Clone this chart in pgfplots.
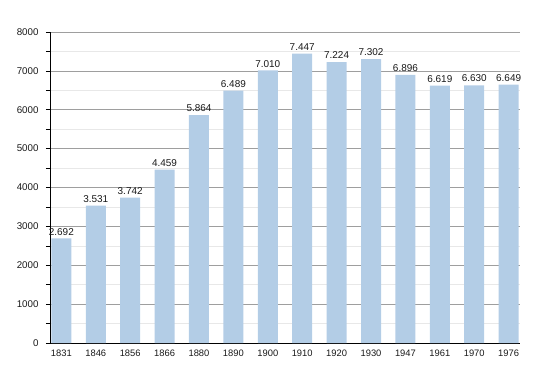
\documentclass[border=0pt]{standalone}
\usepackage{pgfplots}
\pgfplotsset{compat=1.18}
\usepackage{pgfplotstable}
\usepackage{fontspec}
\setmainfont{Liberation Sans}
\definecolor{barblue}{HTML}{B3CDE6}
\pgfplotstableread{
x year val lab
0 1831 2692 2.692
1 1846 3531 3.531
2 1856 3742 3.742
3 1866 4459 4.459
4 1880 5864 5.864
5 1890 6489 6.489
6 1900 7010 7.010
7 1910 7447 7.447
8 1920 7224 7.224
9 1930 7302 7.302
10 1947 6896 6.896
11 1961 6619 6.619
12 1970 6630 6.630
13 1976 6649 6.649
}\datatable
\begin{document}
\begin{tikzpicture}
\begin{axis}[
  scale only axis, width=470bp, height=311bp,
  at={(0,0)}, anchor=south west,
  xmin=-0.33, xmax=13.33, ymin=0, ymax=8000,
  axis x line*=bottom, axis y line*=left,
  axis line style={-, black, line width=0.8pt},
  xtick=data,
  xticklabels={1831,1846,1856,1866,1880,1890,1900,1910,1920,1930,1947,1961,1970,1976},
  xtick style={draw=none},
  ytick={0,1000,...,8000},
  minor ytick={500,1500,...,7500},
  ymajorgrids, yminorgrids,
  major grid style={color=black!38, line width=0.6pt},
  minor grid style={color=black!9, line width=0.6pt},
  tick align=outside,
  major tick length=4bp, minor tick length=4bp,
  ytick style={black, line width=0.6pt},
  tick label style={font=\fontsize{9.8}{11}\selectfont, text=black!90},
  xticklabel style={font=\fontsize{9.4}{11}\selectfont, yshift=1bp},
  yticklabel style={xshift=-4bp},
  /pgf/number format/assume math mode=true,
  yticklabel={\pgfmathprintnumber[fixed,1000 sep={}]{\tick}},
  scaled y ticks=false,
  clip=false,
]
\addplot[ybar, bar width=20bp, fill=barblue, draw=none,
  nodes near coords, point meta=explicit symbolic,
  every node near coord/.append style={font=\fontsize{10}{11}\selectfont, text=black!90, inner sep=3pt}]
  table[x=x, y=val, meta=lab]{\datatable};
\end{axis}
\path (-50bp,-30bp) rectangle (500bp,343bp);
\end{tikzpicture}
\end{document}
